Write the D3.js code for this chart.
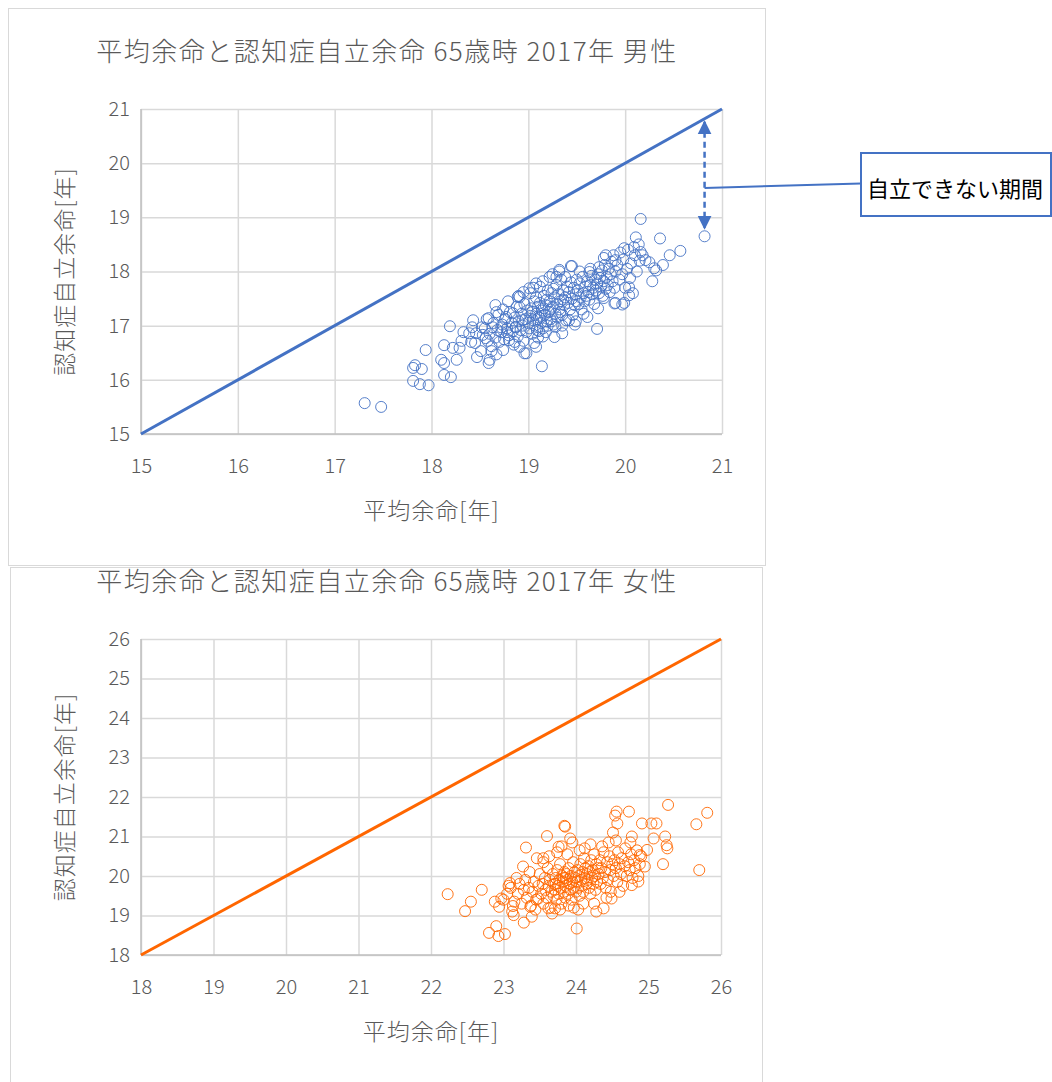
<!DOCTYPE html>
<html>
<head>
<meta charset="utf-8">
<script src="https://cdn.jsdelivr.net/npm/d3@7"></script>
<style>
body { margin: 0; background: #fff; }
text { font-family: "Noto Sans CJK JP", "Noto Sans", sans-serif; fill: #595959; font-weight: 300; }
</style>
</head>
<body>
<svg id="chart" width="1052" height="1082"></svg>
<script>
// ---- data ----
const maleTitle = "平均余命と認知症自立余命 65歳時 2017年 男性";
const femaleTitle = "平均余命と認知症自立余命 65歳時 2017年 女性";
const xLabel = "平均余命[年]";
const yLabel = "認知症自立余命[年]";
const calloutText = "自立できない期間";

const maleTicks = [15, 16, 17, 18, 19, 20, 21];
const femaleTicks = [18, 19, 20, 21, 22, 23, 24, 25, 26];

// [平均余命, 認知症自立余命]
const malePoints = [
  [17.31,15.57],[17.48,15.5],[17.81,15.98],[17.88,15.92],[17.97,15.9],[17.81,16.22],[17.83,16.27],
  [17.9,16.2],[17.94,16.55],[18.1,16.37],[18.13,16.31],[18.13,16.09],[18.2,16.05],[18.19,16.99],
  [18.13,16.64],[18.22,16.59],[18.26,16.37],[18.29,16.59],[18.33,16.88],[18.31,16.72],[18.43,17.1],
  [18.42,16.97],[18.45,16.68],[18.47,16.42],[18.51,16.53],[18.59,16.31],[18.6,16.37],[18.62,16.53],
  [18.67,16.47],[18.74,16.55],[18.66,17.38],[18.67,17.25],[18.59,17.14],[18.52,16.97],[18.53,16.83],
  [18.46,16.86],[18.39,16.86],[18.41,16.7],[18.56,16.77],[18.63,16.97],[18.72,16.97],[18.77,17.16],
  [18.78,16.88],[18.8,16.73],[18.87,16.97],[18.91,16.61],[18.89,17.53],[18.91,17.34],[18.84,17.23],
  [18.94,17.1],[18.96,16.49],
  [19.71,16.94],[19.14,16.25],[20.16,18.97],[20.11,18.63],[20.36,18.61],[20.57,18.38],[20.46,18.3],
  [20.82,18.65],[20.28,17.82],[20.32,18.02],[20.25,18.17],[20.18,18.3],[20.04,17.56],[19.99,17.42],
  [19.9,17.42],[20.04,17.71],[19.99,18.43],[20.09,18.45],[19.8,18.3],[19.9,18.21],[19.73,18.08],
  [19.63,17.99],[19.78,17.51],[19.72,17.32],[19.61,17.16],[19.44,18.1],[19.32,18.03],[19.29,17.9],
  [19.35,16.86],[19.27,16.79],[19.08,16.61],[18.98,16.49],[19.01,17.69],[19.08,17.78],[18.91,17.53],
  [20.3,18.06],[20.39,18.12],[20.21,18.21],[20.16,18.36],[19.97,17.39],[19.89,17.41],[19.49,17.08],
  [19.15,16.8],
  [18.55,16.95],[18.58,16.72],[18.6,16.85],[18.62,16.62],[18.64,17.05],[18.66,16.78],[18.68,16.92],
  [18.7,16.7],[18.57,17.12],[18.69,17.2],[18.72,16.88],[18.73,17.02],[18.75,16.75],[18.76,17.12],
  [18.78,16.95],[18.8,16.82],[18.81,17.25],[18.83,17.05],[18.84,16.9],[18.85,16.65],[18.74,17.3],
  [18.79,17.45],[18.86,17.15],[18.87,16.98],[18.88,17.35],[18.89,16.8],[18.9,17.08],[18.92,16.92],
  [18.93,17.22],[18.94,17.0],[18.95,16.72],[18.96,17.4],[18.97,17.12],[18.98,16.88],[18.99,17.28],
  [18.9,17.55],[18.95,17.62],[18.86,16.7],
  [19.0,17.05],[19.01,16.95],[19.02,17.18],[19.03,17.32],[19.04,16.85],[19.05,17.1],[19.06,17.45],
  [19.07,17.0],[19.08,17.22],[19.09,16.92],[19.1,17.35],[19.02,17.6],[19.05,17.7],[19.08,17.52],
  [19.1,16.78],[19.04,17.25],[19.06,16.68],[19.09,17.12],
  [19.11,17.15],[19.12,17.42],[19.13,17.05],[19.14,17.28],[19.15,16.95],[19.16,17.55],[19.17,17.2],
  [19.18,17.38],[19.19,17.08],[19.2,17.65],[19.12,17.72],[19.15,17.82],[19.18,16.88],[19.13,17.18],
  [19.16,17.32],[19.19,17.48],[19.2,17.0],[19.11,16.9],
  [19.21,17.25],[19.22,17.45],[19.23,17.12],[19.24,17.6],[19.25,17.35],[19.26,17.02],[19.27,17.52],
  [19.28,17.22],[19.29,17.75],[19.3,17.4],[19.22,17.9],[19.25,17.95],[19.28,16.98],[19.23,17.3],
  [19.26,17.68],[19.3,17.15],[19.24,17.08],
  [19.31,17.58],[19.32,17.3],[19.33,17.45],[19.34,17.85],[19.35,17.2],[19.36,17.65],[19.37,17.38],
  [19.38,17.52],[19.39,17.1],[19.4,17.72],[19.32,18.0],[19.35,17.0],[19.38,17.9],[19.33,17.25],
  [19.36,17.48],
  [19.41,17.42],[19.42,17.62],[19.43,17.3],[19.44,17.8],[19.45,17.5],[19.46,17.2],[19.47,17.7],
  [19.48,17.38],[19.49,17.58],[19.5,17.85],[19.42,17.1],[19.45,18.1],[19.48,17.02],[19.5,17.45],
  [19.51,17.65],[19.52,17.4],[19.53,17.78],[19.54,17.52],[19.55,17.3],[19.56,17.9],[19.57,17.6],
  [19.58,17.45],[19.59,17.72],[19.6,17.55],[19.53,18.0],[19.57,17.22],
  [19.61,17.82],[19.62,17.62],[19.63,17.48],[19.64,17.75],[19.65,17.92],[19.66,17.58],[19.67,17.7],
  [19.68,17.4],[19.69,17.85],[19.7,17.65],[19.64,18.05],
  [19.71,17.78],[19.72,17.95],[19.73,17.6],[19.74,17.88],[19.75,17.72],[19.76,18.02],[19.77,17.55],
  [19.78,17.82],[19.79,18.12],[19.8,17.68],[19.78,18.25],
  [19.81,17.9],[19.82,17.75],[19.83,18.05],[19.84,17.62],[19.85,17.95],[19.86,18.18],[19.87,17.82],
  [19.88,18.3],[19.89,17.7],[19.9,18.0],
  [19.92,18.12],[19.94,17.85],[19.95,18.35],[19.97,17.95],[19.98,18.22],[20.0,17.7],[20.02,18.05],
  [20.03,18.4],[20.05,17.88],[20.06,18.15],[20.08,17.6],[20.1,18.3],[20.12,18.0],[20.14,18.5],
  [20.15,18.2]
];

const femalePoints = [
  [22.23,19.54],[22.47,19.11],[22.55,19.35],[22.7,19.65],[23.31,20.72],[23.6,21.01],[23.84,21.27],
  [22.8,18.56],[22.9,18.73],[22.93,18.48],[23.02,18.53],[22.88,19.35],[22.97,19.43],[22.94,19.22],
  [23.13,19.24],[23.14,19.01],[23.07,19.75],[23.09,19.82],[23.27,20.24],[23.28,18.82],[23.37,19.22],
  [23.39,18.97],[23.46,20.45],[23.55,20.45],[23.48,19.43],[23.62,19.18],[23.71,19.18],[24.01,18.67],
  [23.76,20.74],
  [25.27,21.8],[25.81,21.6],[25.66,21.31],[25.7,20.15],[25.2,20.3],[25.25,20.78],[25.26,20.7],
  [25.23,21.0],[25.11,21.33],[25.04,21.33],[24.91,21.33],[24.73,21.63],[24.56,21.63],[24.54,21.53],
  [24.57,21.33],[24.51,21.1],[24.77,21.0],[24.88,20.53],[25.07,20.95],[24.98,20.66],[24.95,20.24],
  [24.86,19.86],[24.77,19.77],[24.49,19.43],[24.38,19.18],[23.85,21.25],[23.92,20.95],
  [23.05,19.55],[23.1,19.7],[23.15,19.35],[23.18,19.95],[23.12,19.1],[23.0,19.4],
  [23.2,19.55],[23.22,19.8],[23.25,19.3],[23.28,19.65],[23.3,19.9],[23.32,19.45],[23.35,19.7],
  [23.38,19.25],[23.4,19.6],[23.42,19.85],[23.45,19.4],[23.48,19.75],[23.5,20.05],[23.36,20.1],
  [23.44,19.15],
  [23.52,19.55],[23.54,19.8],[23.55,19.3],[23.57,19.95],[23.58,19.65],[23.6,19.45],[23.61,20.2],
  [23.62,19.75],[23.64,19.9],[23.65,19.2],[23.66,19.6],[23.68,20.05],[23.69,19.5],[23.7,19.8],
  [23.55,20.35],[23.63,20.5],[23.67,19.05],
  [23.71,19.65],[23.72,19.95],[23.73,19.4],[23.74,20.15],[23.75,19.75],[23.76,19.55],[23.77,19.9],
  [23.78,20.3],[23.79,19.7],[23.8,19.3],[23.81,20.0],[23.82,19.85],[23.83,19.6],[23.84,20.1],
  [23.85,19.45],[23.74,20.6],[23.8,20.75],[23.78,19.15],[23.83,19.95],[23.72,19.8],
  [23.86,19.75],[23.87,20.05],[23.88,19.9],[23.89,19.55],[23.9,20.2],[23.91,19.8],[23.92,19.65],
  [23.93,20.0],[23.94,19.4],[23.95,19.85],[23.96,20.35],[23.97,19.7],[23.98,20.1],[23.99,19.95],
  [24.0,19.6],[23.88,20.55],[23.95,20.85],[23.9,19.25],[23.97,19.2],[23.86,19.95],
  [24.01,19.85],[24.02,20.15],[24.03,19.7],[24.04,20.0],[24.05,19.5],[24.06,20.3],[24.07,19.9],
  [24.08,19.75],[24.09,20.1],[24.1,19.6],[24.11,20.45],[24.12,19.95],[24.13,20.2],[24.14,19.8],
  [24.15,20.05],[24.05,20.65],[24.1,19.3],[24.03,19.15],[24.12,20.7],
  [24.16,19.9],[24.17,20.25],[24.18,19.7],[24.19,20.1],[24.2,19.55],[24.21,20.4],[24.22,19.95],
  [24.23,20.15],[24.24,19.8],[24.25,20.55],[24.26,20.0],[24.27,19.65],[24.28,20.3],[24.29,19.85],
  [24.3,20.2],[24.2,20.8],[24.25,19.3],[24.28,19.1],
  [24.31,20.05],[24.33,20.4],[24.34,19.8],[24.35,20.2],[24.37,19.95],[24.38,20.6],[24.4,20.1],
  [24.41,19.7],[24.43,20.35],[24.44,19.9],[24.46,20.5],[24.47,20.15],[24.48,19.6],[24.5,20.3],
  [24.36,20.75],[24.45,20.85],[24.42,19.45],
  [24.52,20.0],[24.53,20.4],[24.55,20.2],[24.57,19.85],[24.58,20.6],[24.6,20.3],[24.62,20.05],
  [24.63,20.45],[24.65,19.75],[24.67,20.25],[24.68,20.7],[24.7,20.0],[24.55,20.9],[24.6,19.6],
  [24.72,20.35],[24.74,20.15],[24.76,20.55],[24.78,19.95],[24.8,20.4],[24.82,20.2],[24.84,20.65],
  [24.86,20.0],[24.88,20.3],[24.9,20.5],[24.75,20.85]
];

// the annotated point (top right of the male chart)
const calloutPoint = [20.82, 18.65];

// ---- drawing ----
const svg = d3.select("#chart");
const blue = "#4472c4";
const orange = "#ff6600";

// chart frames
svg.append("rect").attr("x", 8.5).attr("y", 8.5).attr("width", 757).attr("height", 557)
  .attr("fill", "#fff").attr("stroke", "#d9d9d9");
svg.append("rect").attr("x", 10.5).attr("y", 567.5).attr("width", 752).attr("height", 530)
  .attr("fill", "#fff").attr("stroke", "#d9d9d9");

function drawPanel(p) {
  const x = d3.scaleLinear().domain(d3.extent(p.ticks)).range([p.left, p.right]);
  const y = d3.scaleLinear().domain(d3.extent(p.ticks)).range([p.bottom, p.top]);
  const g = svg.append("g");

  // grid + tick labels
  const gx = g.append("g").attr("transform", `translate(0,${p.bottom})`)
    .call(d3.axisBottom(x).tickValues(p.ticks).tickFormat(d3.format("d"))
      .tickSize(-(p.bottom - p.top)).tickPadding(25));
  const gy = g.append("g").attr("transform", `translate(${p.left},0)`)
    .call(d3.axisLeft(y).tickValues(p.ticks).tickFormat(d3.format("d"))
      .tickSize(-(p.right - p.left)).tickPadding(11));
  [gx, gy].forEach(a => {
    a.select(".domain").remove();
    a.selectAll(".tick line").attr("stroke", "#d9d9d9").attr("stroke-width", 1.5);
    a.selectAll(".tick text").style("font-size", "20px").attr("fill", "#595959");
  });

  // axis lines
  g.append("line").attr("x1", p.left).attr("x2", p.right).attr("y1", p.bottom).attr("y2", p.bottom)
    .attr("stroke", "#bfbfbf").attr("stroke-width", 1.5);
  g.append("line").attr("x1", p.left).attr("x2", p.left).attr("y1", p.top).attr("y2", p.bottom)
    .attr("stroke", "#bfbfbf").attr("stroke-width", 1.5);

  // y = x reference line
  const ext = d3.extent(p.ticks);
  g.append("line").attr("x1", x(ext[0])).attr("y1", y(ext[0])).attr("x2", x(ext[1])).attr("y2", y(ext[1]))
    .attr("stroke", p.color).attr("stroke-width", 3);

  // scatter
  g.append("g").selectAll("circle").data(p.points).enter()
    .append("circle")
    .attr("cx", d => x(d[0]))
    .attr("cy", d => y(d[1]))
    .attr("r", 5.5)
    .attr("fill", "none")
    .attr("stroke", p.color)
    .attr("stroke-width", 0.9);

  // titles
  g.append("text").attr("x", 387).attr("y", p.titleY).attr("text-anchor", "middle")
    .style("font-size", "26px").style("letter-spacing", "1.5px").text(p.title);
  g.append("text").attr("x", (p.left + p.right) / 2).attr("y", p.bottom + 85).attr("text-anchor", "middle")
    .style("font-size", "23px").style("letter-spacing", "1px").text(xLabel);
  g.append("text").attr("transform", `translate(73,${(p.top + p.bottom) / 2}) rotate(-90)`)
    .attr("text-anchor", "middle")
    .style("font-size", "23px").style("letter-spacing", "1px").text(yLabel);

  return {x, y};
}

const m = drawPanel({title: maleTitle, titleY: 61, ticks: maleTicks, points: malePoints, color: blue,
  left: 141, right: 722, top: 109, bottom: 434});
drawPanel({title: femaleTitle, titleY: 591, ticks: femaleTicks, points: femalePoints, color: orange,
  left: 141, right: 721, top: 639, bottom: 955});

// callout: dashed double arrow between y=x line and the point
const defs = svg.append("defs");
defs.append("marker").attr("id", "arr").attr("viewBox", "0 0 10 10")
  .attr("refX", 9).attr("refY", 5).attr("markerWidth", 14).attr("markerHeight", 15)
  .attr("markerUnits", "userSpaceOnUse").attr("orient", "auto-start-reverse")
  .append("path").attr("d", "M0,0 L10,5 L0,10 Z").attr("fill", blue);

const ax = m.x(calloutPoint[0]);
const aTop = m.y(calloutPoint[0]) + 3;
const aBot = m.y(calloutPoint[1]) - 8;
svg.append("line").attr("x1", ax).attr("x2", ax).attr("y1", aTop).attr("y2", aBot)
  .attr("stroke", blue).attr("stroke-width", 2.5).attr("stroke-dasharray", "6,4")
  .attr("marker-start", "url(#arr)").attr("marker-end", "url(#arr)");

const midY = (aTop + aBot) / 2 + 13;
svg.append("line").attr("x1", ax).attr("y1", midY).attr("x2", 861).attr("y2", 183.5)
  .attr("stroke", blue).attr("stroke-width", 2);
svg.append("rect").attr("x", 861).attr("y", 153).attr("width", 190).attr("height", 63)
  .attr("fill", "#fff").attr("stroke", blue).attr("stroke-width", 2);
svg.append("text").attr("x", 867).attr("y", 197).style("font-size", "22px")
  .style("fill", "#000").style("font-weight", "400").text(calloutText);
</script>
</body>
</html>
